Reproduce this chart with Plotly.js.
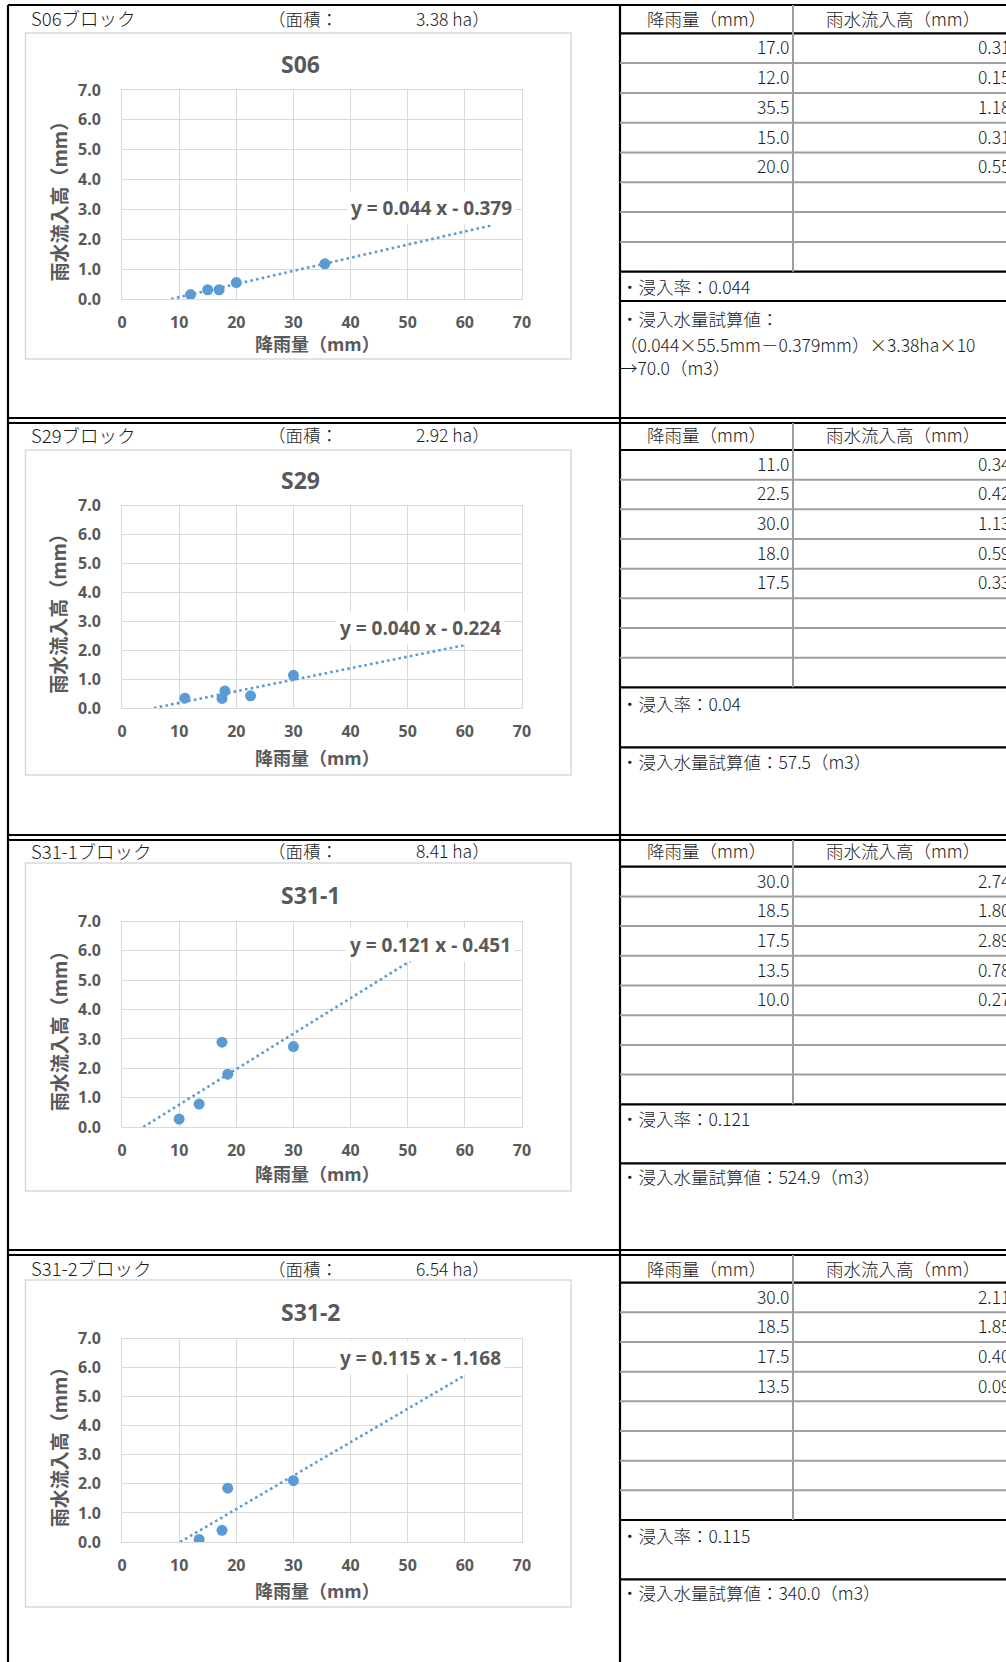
<!DOCTYPE html>
<html>
<head>
<meta charset="utf-8">
<script src="https://cdn.plot.ly/plotly-3.0.1.min.js"></script>
<style>
html,body{margin:0;padding:0;background:#fff;overflow:hidden;width:1006px;height:1662px}
#chart{width:1006px;height:1662px}
</style>
</head>
<body>
<div id="chart"></div>
<script>
// ---------------- DATA ----------------
const blockNames = ['S06', 'S29', 'S31-1', 'S31-2'];
const blockAreas = ['3.38', '2.92', '8.41', '6.54'];

const rainS06 = [17.0, 12.0, 35.5, 15.0, 20.0];
const runoffS06 = [0.31, 0.15, 1.18, 0.31, 0.55];
const rainS29 = [11.0, 22.5, 30.0, 18.0, 17.5];
const runoffS29 = [0.34, 0.42, 1.13, 0.59, 0.33];
const rainS31_1 = [30.0, 18.5, 17.5, 13.5, 10.0];
const runoffS31_1 = [2.74, 1.80, 2.89, 0.78, 0.27];
const rainS31_2 = [30.0, 18.5, 17.5, 13.5];
const runoffS31_2 = [2.11, 1.85, 0.40, 0.09];

const trendSlopes = [0.044, 0.040, 0.121, 0.115];
const trendIntercepts = [-0.379, -0.224, -0.451, -1.168];
const trendEndX = [65, 60, 54, 60];

const infiltrationRates = ['0.044', '0.04', '0.121', '0.115'];
const volumeLinesS06 = ['・浸入水量試算値：', '（0.044×55.5mm－0.379mm）×3.38ha×10', '→70.0（m3）'];
const volumeValues = ['70.0', '57.5', '524.9', '340.0'];

const xTickVals = [0, 10, 20, 30, 40, 50, 60, 70];
const yTickVals = [0, 1, 2, 3, 4, 5, 6, 7];
const tableHeaders = ['降雨量（mm）', '雨水流入高（mm）'];
const xAxisTitle = '降雨量（mm）';
const yAxisTitle = '雨水流入高（mm）';

const rainSets = [rainS06, rainS29, rainS31_1, rainS31_2];
const runoffSets = [runoffS06, runoffS29, runoffS31_1, runoffS31_2];

// ---------------- LAYOUT GEOMETRY (px) ----------------
const W = 1006, H = 1662;
const PX = v => v / W;
const PY = v => 1 - v / H;

const G = {
  top:      [5, 423, 840, 1255],
  bottom:   [418, 835, 1250, null],
  plotTop:  [90, 505.6, 921.5, 1338.5],
  plotBot:  [299, 708, 1127, 1542],
  boxTop:   [33, 450, 863, 1280],
  boxBot:   [359, 775, 1191, 1607],
  titleY:   [63.6, 479.5, 895, 1311.7],
  xTitleY:  [343, 756.7, 1173, 1590],
  headerY:  [18, 435, 850.7, 1268],
  headBot:  [33.3, 450, 866.7, 1282.7],
  dataBot:  [271.7, 687.3, 1104.3, 1520],
  rateBot:  [301, 747.3, 1163.3, 1579.3],
  rateY:    [286.7, 703.3, 1118.3, 1535],
  volY:     [318, 761.7, 1176.7, 1592.7],
  eqX:      [431, 420, 430, 420],
  eqY:      [208, 628, 945, 1358]
};
const PLOT_L = 122, PLOT_R = 522;
const TABLE_L = 620, COL_DIV = 793, RIGHT = 1006;
const ROWS = 8;

const BLUE = '#5B9BD5';
const GRAY_TXT = '#595959';
const GRID = '#D9D9D9';
const JP = 'Noto Sans CJK JP';
const LAT = 'Noto Sans, Lato, sans-serif';

const traces = [];
const layout = {
  width: W, height: H,
  margin: {l: 0, r: 0, t: 0, b: 0},
  paper_bgcolor: '#ffffff',
  plot_bgcolor: '#ffffff',
  showlegend: false,
  shapes: [],
  annotations: []
};

function hline(y, x0, x1, color, width) {
  layout.shapes.push({type: 'line', xref: 'paper', yref: 'paper',
    x0: PX(x0), x1: PX(x1), y0: PY(y), y1: PY(y), line: {color: color, width: width}});
}
function vline(x, y0, y1, color, width) {
  layout.shapes.push({type: 'line', xref: 'paper', yref: 'paper',
    x0: PX(x), x1: PX(x), y0: PY(y0), y1: PY(y1), line: {color: color, width: width}});
}
function txt(text, x, y, xanchor, font, extra) {
  layout.annotations.push(Object.assign({
    text: text, xref: 'paper', yref: 'paper', x: PX(x), y: PY(y),
    xanchor: xanchor, yanchor: 'middle', showarrow: false, font: font
  }, extra || {}));
}

const tableFont = {family: JP, size: 17.5, color: '#1a1a1a', weight: 300};
const blockHeadFont = {family: JP, size: 18.5, color: '#1a1a1a', weight: 300};

// outer frame
vline(8, 5, H + 10, '#000', 2.2);
vline(TABLE_L, 5, H + 10, '#000', 2.2);

for (let i = 0; i < 4; i++) {
  const xa = i === 0 ? 'x' : 'x' + (i + 1);
  const ya = i === 0 ? 'y' : 'y' + (i + 1);
  const xk = i === 0 ? 'xaxis' : 'xaxis' + (i + 1);
  const yk = i === 0 ? 'yaxis' : 'yaxis' + (i + 1);
  const a = trendSlopes[i], b = trendIntercepts[i];
  const x0 = -b / a, x1 = trendEndX[i];

  traces.push({
    type: 'scatter', mode: 'lines', xaxis: xa, yaxis: ya,
    x: [x0, x1], y: [a * x0 + b, a * x1 + b],
    line: {color: BLUE, width: 2.6, dash: '2.6px,3.2px'},
    hoverinfo: 'skip', cliponaxis: true
  });
  traces.push({
    type: 'scatter', mode: 'markers', xaxis: xa, yaxis: ya,
    x: rainSets[i], y: runoffSets[i],
    marker: {color: BLUE, size: 11}
  });

  layout[xk] = {
    domain: [PX(PLOT_L), PX(PLOT_R)], anchor: ya,
    range: [0, 70], tickmode: 'array', tickvals: xTickVals,
    ticks: '', ticklabelstandoff: 9,
    tickfont: {family: LAT, size: 16, color: GRAY_TXT, weight: 'bold'},
    showgrid: true, gridcolor: GRID, gridwidth: 1,
    zeroline: false, showline: true, linecolor: GRID, linewidth: 1, mirror: true,
    fixedrange: true
  };
  layout[yk] = {
    domain: [PY(G.plotBot[i]), PY(G.plotTop[i])], anchor: xa,
    range: [0, 7], tickmode: 'array', tickvals: yTickVals, tickformat: '.1f',
    ticks: '', ticklabelstandoff: 17,
    tickfont: {family: LAT, size: 16, color: GRAY_TXT, weight: 'bold'},
    showgrid: true, gridcolor: GRID, gridwidth: 1,
    zeroline: false, showline: true, linecolor: GRID, linewidth: 1, mirror: true,
    fixedrange: true
  };

  // block borders
  const T = G.top[i];
  hline(T, 8, RIGHT + 5, '#000', 2.2);
  if (G.bottom[i] !== null) hline(G.bottom[i], 8, RIGHT + 5, '#000', 2.2);

  // block header (left cell)
  txt(blockNames[i] + 'ブロック', 29, G.headerY[i], 'left', blockHeadFont);
  txt('（面積：', 266, G.headerY[i], 'left', tableFont);
  txt(blockAreas[i] + ' ha）', 414, G.headerY[i], 'left', tableFont);

  // chart area box
  layout.shapes.push({type: 'rect', xref: 'paper', yref: 'paper',
    x0: PX(25.5), x1: PX(571), y0: PY(G.boxBot[i]), y1: PY(G.boxTop[i]),
    line: {color: GRID, width: 1.5}, fillcolor: 'rgba(0,0,0,0)', layer: 'below'});

  // chart title
  txt('<b>' + blockNames[i] + '</b>', 279, G.titleY[i], 'left', {family: LAT, size: 23, color: GRAY_TXT});
  // axis titles
  txt('<b>' + xAxisTitle + '</b>', 317, G.xTitleY[i], 'center', {family: JP, size: 18, color: GRAY_TXT});
  txt('<b>' + yAxisTitle + '</b>', 58, (G.plotTop[i] + G.plotBot[i]) / 2 + 2, 'center',
      {family: JP, size: 19, color: GRAY_TXT}, {textangle: -90});
  // trendline equation
  const eq = 'y = ' + a.toFixed(3) + ' x - ' + Math.abs(b).toFixed(3);
  txt('<b>' + eq + '</b>', G.eqX[i], G.eqY[i], 'center', {family: LAT, size: 19, color: GRAY_TXT},
      {bgcolor: '#ffffff', borderpad: 3});

  // ---------- table ----------
  const hb = G.headBot[i], db = G.dataBot[i], rb = G.rateBot[i];
  const rowH = (db - hb) / ROWS;
  hline(hb, TABLE_L, RIGHT + 5, '#000', 2.2);
  for (let k = 1; k < ROWS; k++) hline(hb + k * rowH, TABLE_L, RIGHT + 5, '#9E9E9E', 2);
  hline(db, TABLE_L, RIGHT + 5, '#000', 2.2);
  hline(rb, TABLE_L, RIGHT + 5, '#000', 2.2);
  vline(COL_DIV, T, db, '#9E9E9E', 2);

  txt(tableHeaders[0], (TABLE_L + COL_DIV) / 2, G.headerY[i], 'center', tableFont);
  txt(tableHeaders[1], 903, G.headerY[i], 'center', tableFont);

  const rs = rainSets[i], ro = runoffSets[i];
  for (let k = 0; k < rs.length; k++) {
    const yc = hb + (k + 0.5) * rowH - 1.5;
    txt(rs[k].toFixed(1), 791, yc, 'right', tableFont);
    txt(ro[k].toFixed(2), 1012, yc, 'right', tableFont);
  }

  txt('・浸入率：' + infiltrationRates[i], 619, G.rateY[i], 'left', tableFont);
  if (i === 0) {
    txt(volumeLinesS06[0], 619, G.volY[i], 'left', tableFont);
    txt(volumeLinesS06[1] + '<br>' + volumeLinesS06[2], 618, G.volY[i] + 38, 'left', tableFont,
        {align: 'left'});
  } else {
    txt('・浸入水量試算値：' + volumeValues[i] + '（m3）', 619, G.volY[i], 'left', tableFont);
  }
}

Plotly.newPlot('chart', traces, layout, {staticPlot: true, displayModeBar: false});
</script>
</body>
</html>
